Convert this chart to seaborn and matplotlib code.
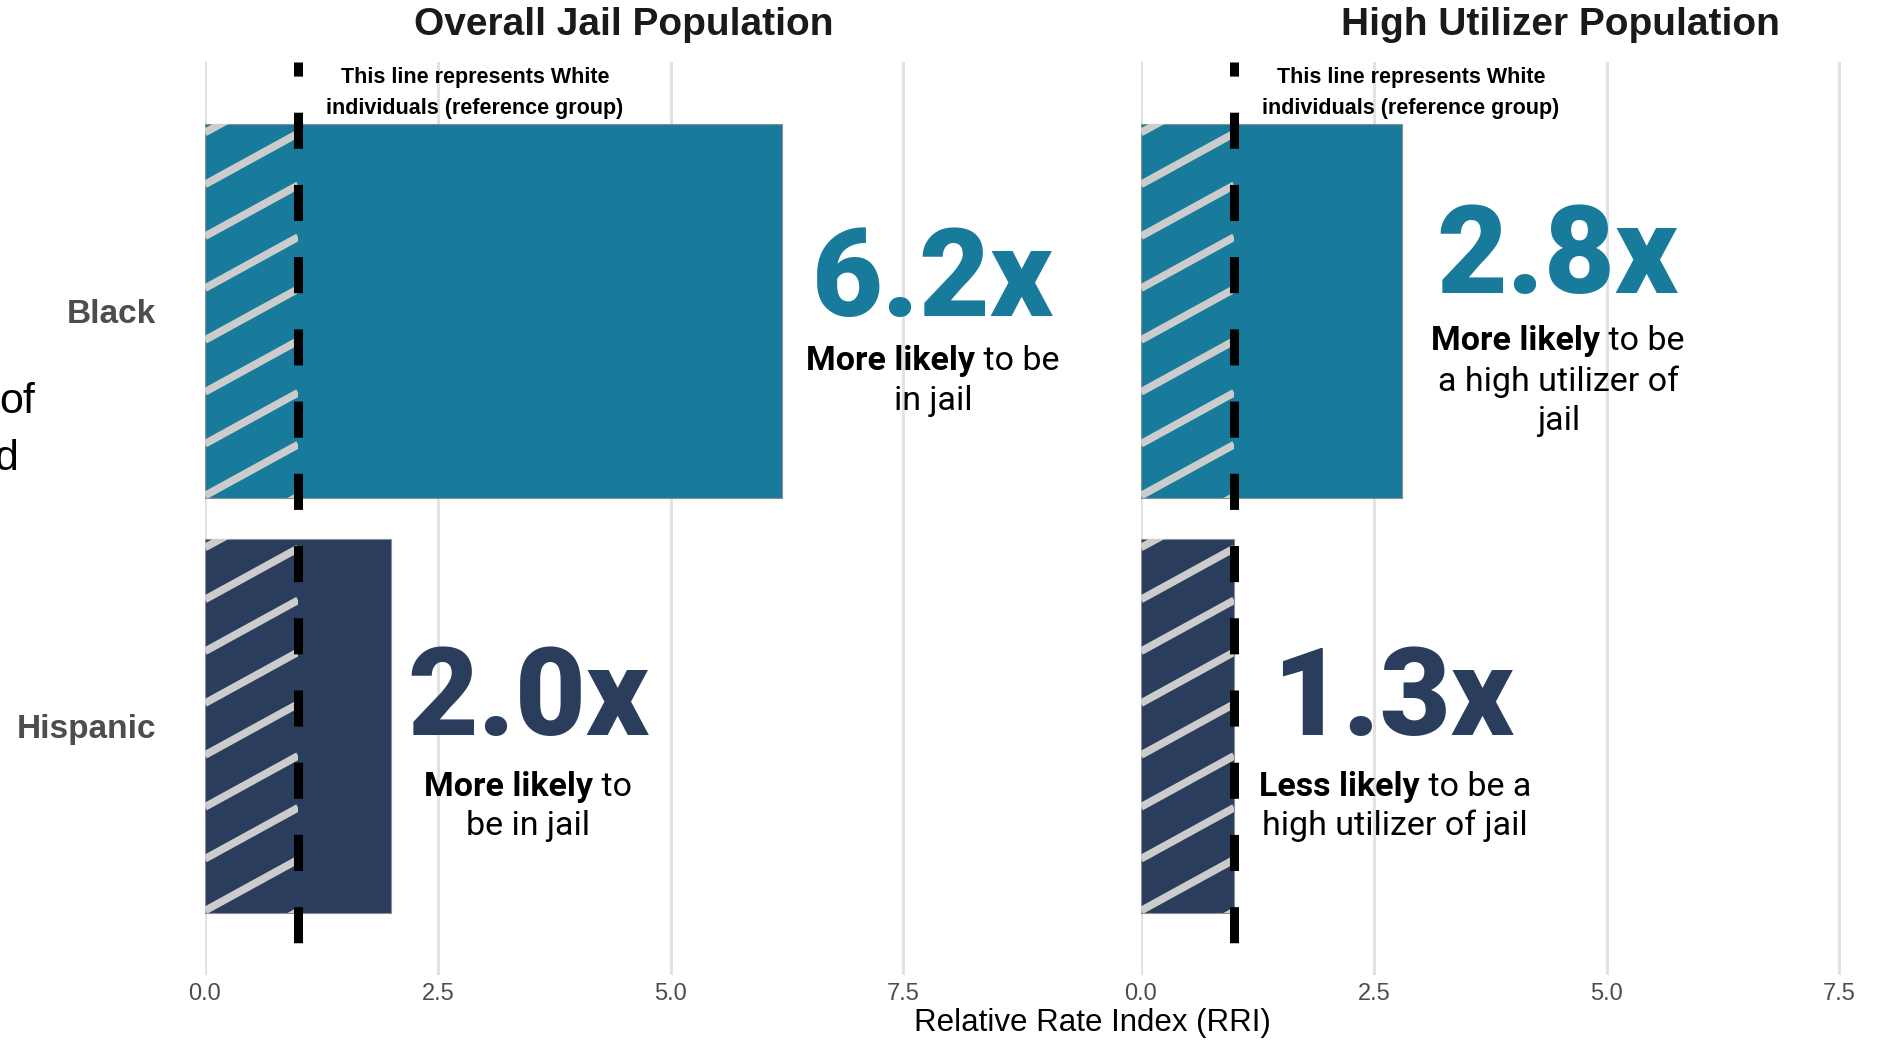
import numpy as np
import pandas as pd
import matplotlib
matplotlib.use("Agg")
import matplotlib.pyplot as plt
from matplotlib.patches import Rectangle
from matplotlib.transforms import offset_copy
import seaborn as sns

# ---- data -------------------------------------------------------------
races = ["Black", "Hispanic"]
overall_rri = [6.2, 2.0]
utilizer_rri = [2.8, 1.0]
reference_rri = 1.0

panel_titles = ["Overall Jail Population", "High Utilizer Population"]
overall_labels = ["6.2x", "2.0x"]
utilizer_labels = ["2.8x", "1.3x"]
overall_notes = [
    [("More likely", " to be"), ("", "in jail")],
    [("More likely", " to"), ("", "be in jail")],
]
utilizer_notes = [
    [("More likely", " to be"), ("", "a high utilizer of"), ("", "jail")],
    [("Less likely", " to be a"), ("", "high utilizer of jail")],
]
reference_note = ["This line represents White", "individuals (reference group)"]
x_ticks = [0.0, 2.5, 5.0, 7.5]
x_title = "Relative Rate Index (RRI)"

# ---- style ------------------------------------------------------------
bar_colors = ["#187b9c", "#2a3d5c"]
stripe_color = "#cccccc"
grid_color = "#e2e2e2"
tick_gray = "#4d4d4d"

sns.set_theme(style="white")
plt.rcParams["font.family"] = ["Liberation Sans", "DejaVu Sans"]
note_font = ["Roboto", "Liberation Sans", "DejaVu Sans"]

W, H = 1883, 1040
fig = plt.figure(figsize=(W / 100, H / 100), dpi=100)
fig.patch.set_facecolor("white")

x_max = 9.0
panel_w = (1043 - 205) / W
panel_b = (H - 975) / H
panel_h = 913 / H
ax_left = fig.add_axes([205 / W, panel_b, panel_w, panel_h])
ax_right = fig.add_axes([1141 / W, panel_b, panel_w, panel_h])

renderer = fig.canvas.get_renderer()


def note_line(ax, x, y, bold, regular, size=24.5):
    """Centered line whose leading words are bold."""
    parts = []
    if bold:
        parts.append(ax.text(x, y, bold, fontsize=size, fontweight="bold",
                             family=note_font, color="black",
                             ha="left", va="center"))
    parts.append(ax.text(x, y, regular, fontsize=size, family=note_font,
                         color="black", ha="left", va="center"))
    widths = [p.get_window_extent(renderer).width for p in parts]
    start = -sum(widths) / 2
    for p, w in zip(parts, widths):
        p.set_transform(offset_copy(ax.transData, fig=fig, x=start, y=0,
                                    units="dots"))
        start += w


def stripes(ax, patch, limit):
    """Diagonal light stripes over the part of a bar below the reference."""
    x0, y0 = patch.get_x(), patch.get_y()
    w, h = patch.get_width(), patch.get_height()
    sw = min(w, limit)
    clip = Rectangle((x0, y0), sw, h, transform=ax.transData)
    slope = -0.55 * (93.1 / 416.0)  # rising to the right on screen
    spacing = 0.125
    for k in range(-2, int((h + abs(slope) * sw) / spacing) + 3):
        ys = y0 + 0.02 + k * spacing
        ln, = ax.plot([x0, x0 + sw], [ys, ys + slope * sw],
                      color=stripe_color, lw=5.5, solid_capstyle="butt",
                      zorder=3)
        ln.set_clip_path(clip)


panels = [
    (ax_left, overall_rri, overall_labels, overall_notes,
     # big label (x, baseline y), note x, note y list
     [((7.82, 0.012), 7.82, [0.12, 0.216]),
      ((3.47, 1.022), 3.47, [1.147, 1.24])]),
    (ax_right, utilizer_rri, utilizer_labels, utilizer_notes,
     [((4.47, -0.043), 4.48, [0.072, 0.171, 0.264]),
      ((2.71, 1.022), 2.73, [1.147, 1.24])]),
]

for i, (ax, values, labels, notes, pos) in enumerate(panels):
    df = pd.DataFrame({"race": races, "rri": values})
    sns.barplot(data=df, x="rri", y="race", hue="race", palette=bar_colors,
                orient="h", width=0.9, saturation=1, legend=False, ax=ax,
                edgecolor="#8a8f96", linewidth=0.8, zorder=2)
    for patch in list(ax.patches):
        stripes(ax, patch, reference_rri)

    ax.plot([reference_rri, reference_rri], [-0.6, 1.6], color="black",
            lw=6.5, linestyle=(2.44, (4, 4)), dash_capstyle="butt", zorder=5)

    ax.set_xlim(0, x_max)
    ax.set_ylim(1.6, -0.6)
    ax.set_xticks(x_ticks)
    ax.set_xticklabels([f"{t:.1f}" for t in x_ticks])
    ax.grid(axis="x", color=grid_color, lw=2.2, zorder=0)
    ax.grid(axis="y", visible=False)
    ax.set_axisbelow(True)
    for s in ax.spines.values():
        s.set_visible(False)
    ax.tick_params(axis="x", length=0, pad=6, labelsize=17, labelcolor=tick_gray)
    ax.set_xlabel("")
    ax.set_ylabel("")
    if i == 0:
        ax.tick_params(axis="y", length=0, pad=35, labelsize=24,
                       labelcolor=tick_gray)
        for lab in ax.get_yticklabels():
            lab.set_fontweight("bold")
    else:
        ax.tick_params(axis="y", length=0, labelleft=False)

    ax.text(0.5, 1 + 37 / 913, panel_titles[i], transform=ax.transAxes,
            ha="center", va="center", fontsize=28, fontweight="bold",
            color="#1a1a1a")

    ax.text(2.9, -0.5625, reference_note[0], ha="center", va="center",
            fontsize=15.5, fontweight="bold", color="black")
    ax.text(2.9, -0.488, reference_note[1], ha="center", va="center",
            fontsize=15.5, fontweight="bold", color="black")

    for j in range(len(races)):
        (bx, by), nx, nys = pos[j]
        ax.text(bx, by, labels[j], ha="center", va="baseline", fontsize=88,
                fontweight="black", family=note_font, color=bar_colors[j],
                zorder=6)
        for (bold, reg), ny in zip(notes[j], nys):
            note_line(ax, nx, ny, bold, reg)

# shared axis title
fig.text(1092 / W, 1 - 1023 / H, x_title, ha="center", va="center",
         fontsize=22.5, color="black")

# y-axis title, only its line endings fall inside the canvas
fig.text(35 / W, 1 - 413 / H, "of", ha="right", va="baseline", fontsize=31,
         color="black")
fig.text(18 / W, 1 - 470 / H, "d", ha="right", va="baseline", fontsize=31,
         color="black")

fig.savefig("out.png", dpi=100, facecolor="white")
